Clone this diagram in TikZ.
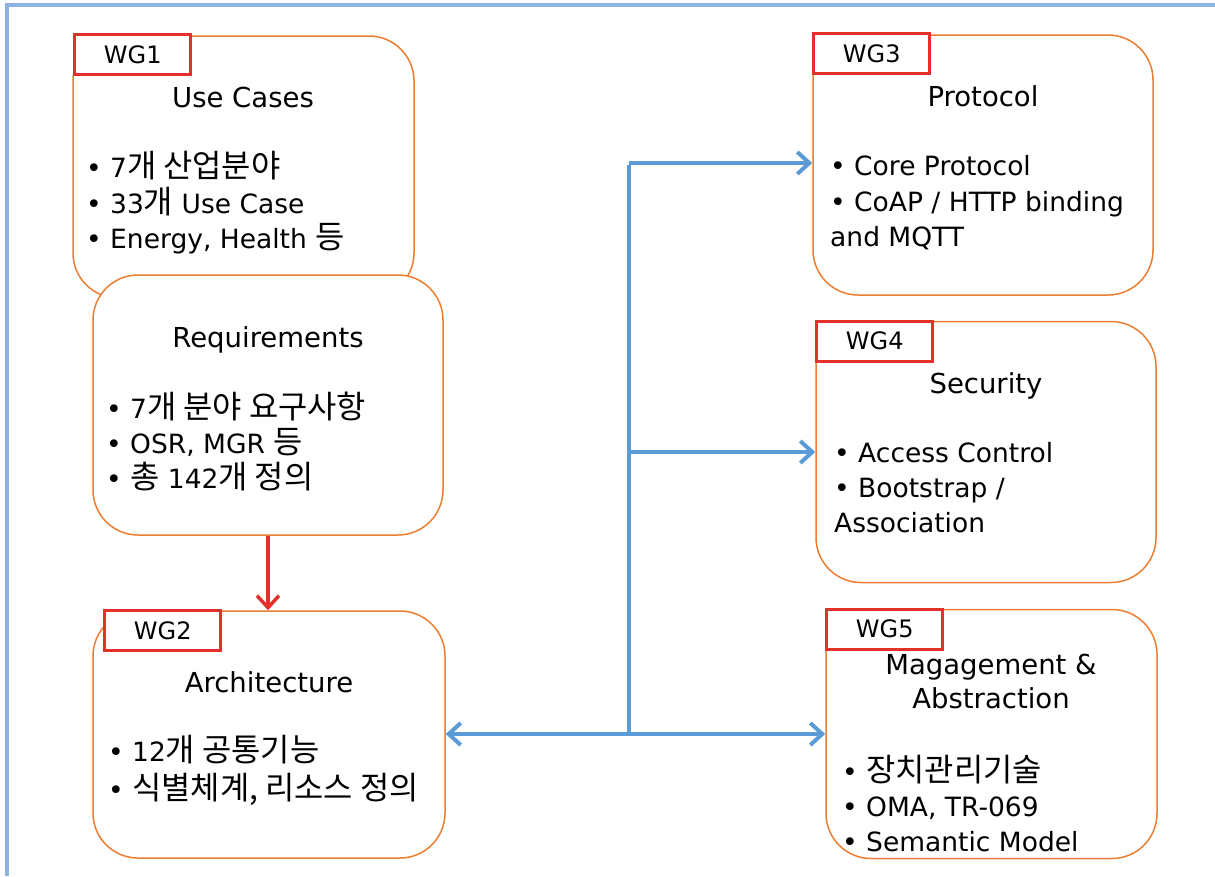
\documentclass[tikz,border=0pt]{standalone}
\usepackage{fontspec}
\setmainfont{DejaVu Sans}
\newfontfamily\krfont{Noto Sans CJK KR}[Scale=1.2]
\newcommand\K[1]{{\krfont #1}}
\usetikzlibrary{arrows.meta}
\definecolor{boxorange}{HTML}{ED7D31}
\definecolor{tagred}{HTML}{E3302B}
\definecolor{linkblue}{HTML}{5B9BD5}
\definecolor{frameblue}{HTML}{8DB3E2}
\begin{document}
\begin{tikzpicture}[x=1pt,y=-1pt,
  wgbox/.style={draw=boxorange, line width=1.5pt, fill=white, rounded corners=45pt, inner sep=0pt},
  tag/.style={draw=tagred, line width=3pt, fill=white, inner sep=0pt, anchor=north west,
    minimum width=116pt, minimum height=40pt, font=\fontsize{24}{28}\selectfont},
  title/.style={anchor=base, inner sep=0pt, font=\fontsize{27.5}{34}\selectfont},
  item/.style={anchor=base west, inner sep=0pt, font=\fontsize{26.5}{34}\selectfont},
  bluelink/.style={draw=linkblue, line width=4pt},
  bluearrow/.style={bluelink, -{Straight Barb[length=12pt,width=22pt,line width=4pt]}},
  redarrow/.style={draw=tagred, line width=3.5pt, -{Straight Barb[length=12pt,width=22pt,line width=3.5pt]}}
]
\useasboundingbox (0,0) rectangle (1215,876);
% outer frame (top and left edges only)
\draw[frameblue, line width=4pt] (7,876) -- (7,5) -- (1215,5);

% WG1: use cases
\node[wgbox, minimum width=341pt, minimum height=262pt] (wg1) at (243.5,167) {};
\node[tag] (wg1tag) at ([xshift=1pt,yshift=2pt]wg1.north west) {WG1};
\node[title] (wg1title) at (243,107) {Use Cases};
\node[item] (wg1a) at (86,177) {• 7\K{개 산업분야}};
\node[item] (wg1b) at (86,213) {• 33\K{개} Use Case};
\node[item] (wg1c) at (86,248) {• Energy, Health \K{등}};

% requirements
\node[wgbox, minimum width=350pt, minimum height=260pt] (req) at (268,405) {};
\node[title] (reqtitle) at (268,347) {Requirements};
\node[item] (reqa) at (106,418) {• 7\K{개 분야 요구사항}};
\node[item] (reqb) at (106,453) {• OSR, MGR \K{등}};
\node[item] (reqc) at (106,488) {• \K{총} 142\K{개 정의}};

% WG2: architecture
\node[wgbox, minimum width=352pt, minimum height=247pt] (wg2) at (269,734.5) {};
\node[tag] (wg2tag) at ([xshift=11pt,yshift=1pt]wg2.north west) {WG2};
\node[title] (wg2title) at (269,692) {Architecture};
\node[item] (wg2a) at (108,761) {• 12\K{개 공통기능}};
\node[item] (wg2b) at (108,799) {• \K{식별체계, 리소스 정의}};

% WG3: protocol
\node[wgbox, minimum width=340pt, minimum height=260pt] (wg3) at (983,165) {};
\node[tag] (wg3tag) at ([yshift=2pt]wg3.north west) {WG3};
\node[title] (wg3title) at (983,106) {Protocol};
\node[item] (wg3a) at (830,175) {• Core Protocol};
\node[item] (wg3b) at (830,211) {• CoAP / HTTP binding};
\node[item] (wg3c) at (830,246) {and MQTT};

% WG4: security
\node[wgbox, minimum width=340pt, minimum height=261pt] (wg4) at (986,452) {};
\node[tag] (wg4tag) at ([yshift=1pt]wg4.north west) {WG4};
\node[title] (wg4title) at (986,393) {Security};
\node[item] (wg4a) at (834,462) {• Access Control};
\node[item] (wg4b) at (834,497) {• Bootstrap /};
\node[item] (wg4c) at (834,532) {Association};

% WG5: management & abstraction
\node[wgbox, minimum width=331pt, minimum height=249pt] (wg5) at (991.5,734) {};
\node[tag] (wg5tag) at ([yshift=1pt]wg5.north west) {WG5};
\node[title] (wg5title1) at (991,674) {Magagement \&};
\node[title] (wg5title2) at (991,708) {Abstraction};
\node[item] (wg5a) at (842,781) {• \K{장치관리기술}};
\node[item] (wg5b) at (842,816) {• OMA, TR-069};
\node[item] (wg5c) at (842,851) {• Semantic Model};

% requirements feed the architecture
\draw[redarrow] (req.south) -- (req.south |- wg2.north);

% distribution from the architecture to WG3, WG4 and WG5
\coordinate (hub1) at (629,163);
\coordinate (hub2) at (629,452);
\coordinate (hub3) at (629,734);
\draw[bluelink] ([yshift=-2pt]hub1) -- ([yshift=2pt]hub3);
\draw[bluearrow] (hub1) -- (wg3.west |- hub1);
\draw[bluearrow] (hub2) -- (wg4.west |- hub2);
\draw[bluearrow] (hub3) -- (wg5.west |- hub3);
\draw[bluearrow] (hub3) -- (wg2.east |- hub3);
\end{tikzpicture}
\end{document}
